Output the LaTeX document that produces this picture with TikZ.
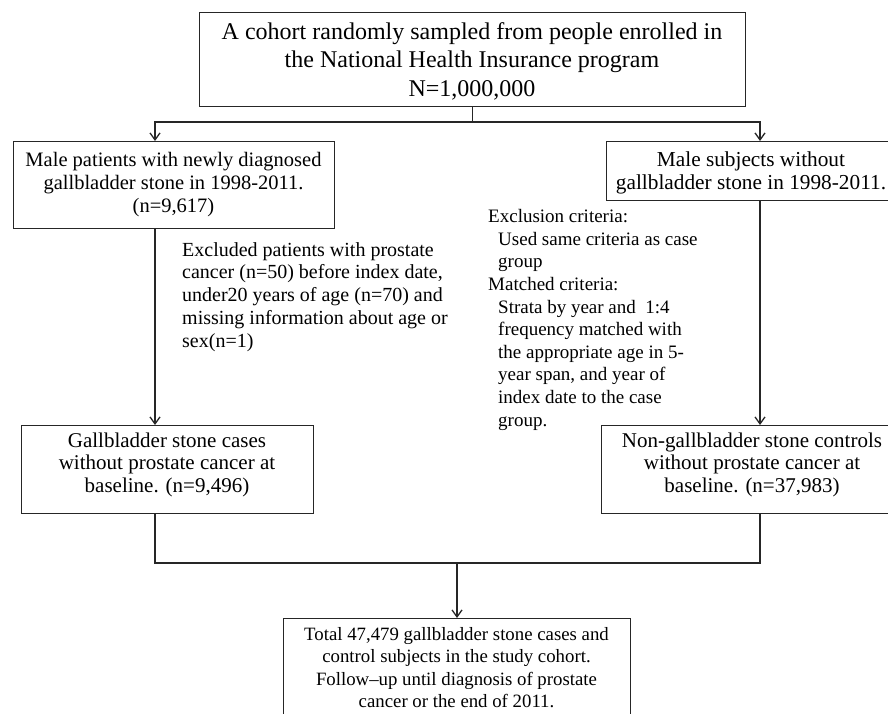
\documentclass[tikz,border=0pt]{standalone}
\usepackage{fontspec}
\setmainfont{Liberation Serif}
\usetikzlibrary{arrows.meta,calc}
\newcommand\fstrut[1]{\rule{0pt}{#1pt}}
\begin{document}
\begin{tikzpicture}[x=1pt,y=-1pt,
  box/.style={draw=black!85, line width=1.3pt, inner sep=0pt, anchor=north west},
  txt/.style={inner sep=0pt, align=center, anchor=north},
  ltxt/.style={inner sep=0pt, align=left, anchor=north west},
  conn/.style={draw=black!85, line width=1.3pt},
  arr/.style={conn, -{Straight Barb[length=7pt,width=10pt,line width=1.3pt]}}]
\useasboundingbox (0,0) rectangle (888,714);
\clip (0,0) rectangle (888,714);
\fill[white] (0,0) rectangle (888,714);

% boxes
\node[box, minimum width=546pt, minimum height=94pt] (top) at (199,12) {};
\node[box, minimum width=321pt, minimum height=87pt] (lu) at (13,141) {};
\node[box, minimum width=292pt, minimum height=59pt] (ru) at (606,141) {};
\node[box, minimum width=292pt, minimum height=88pt] (ll) at (21,425) {};
\node[box, minimum width=302pt, minimum height=88pt] (rl) at (601,425) {};
\node[box, minimum width=347pt, minimum height=110pt] (bt) at (283,618) {};

% box texts
\node[txt, font=\fontsize{24}{28.5}\selectfont] (top-t) at (472,21)
  {\fstrut{18}A cohort randomly sampled from people enrolled in\\the National Health Insurance program\\N=1,000,000};
\node[txt, font=\fontsize{20.5}{23}\selectfont] (lu-t) at (173.5,151.5)
  {\fstrut{15}Male patients with newly diagnosed\\gallbladder stone in 1998-2011.\\(n=9,617)};
\node[txt, font=\fontsize{21.3}{23}\selectfont] (ru-t) at (751,151.5)
  {\fstrut{15}Male subjects without\\gallbladder stone in 1998-2011.};
\node[txt, font=\fontsize{21}{22.4}\selectfont] (ll-t) at (167,432)
  {\fstrut{15}Gallbladder stone cases\\without prostate cancer at\\baseline. (n=9,496)};
\node[txt, font=\fontsize{21}{22.4}\selectfont] (rl-t) at (752,432)
  {\fstrut{15}Non-gallbladder stone controls\\without prostate cancer at\\baseline. (n=37,983)};
\node[txt, font=\fontsize{18.8}{22.4}\selectfont] (bt-t) at (456.5,626)
  {\fstrut{14}Total 47,479 gallbladder stone cases and\\control subjects in the study cohort.\\Follow--up until diagnosis of prostate\\cancer or the end of 2011.};

% side texts
\node[ltxt, font=\fontsize{20}{22.7}\selectfont] (ex-t) at (182,241)
  {\fstrut{15}Excluded patients with prostate\\cancer (n=50) before index date,\\under20 years of age (n=70) and\\missing information about age or\\sex(n=1)};
\node[ltxt, font=\fontsize{19}{22.6}\selectfont] (mid-t) at (488,208.5)
  {\fstrut{14}Exclusion criteria:\\\hspace*{10pt}Used same criteria as case\\\hspace*{10pt}group\\Matched criteria:\\\hspace*{10pt}Strata by year and~ 1:4\\\hspace*{10pt}frequency matched with\\\hspace*{10pt}the appropriate age in 5-\\\hspace*{10pt}year span, and year of\\\hspace*{10pt}index date to the case\\\hspace*{10pt}group.};

% connector coordinates
\coordinate (xl) at (155,0);
\coordinate (xr) at (760,0);
\coordinate (jt) at (top.south |- 0,122);
\coordinate (jb) at (457,563);

% connectors
\draw[conn] (top.south) -- (jt);
\draw[arr] (jt) -| (lu.north -| xl);
\draw[arr] (jt) -| (ru.north -| xr);
\draw[arr] (lu.south -| xl) -- (ll.north -| xl);
\draw[arr] (ru.south -| xr) -- (rl.north -| xr);
\draw[conn] (ll.south -| xl) |- (jb);
\draw[conn] (rl.south -| xr) |- (jb);
\draw[arr] (jb) -- (bt.north -| jb);
\end{tikzpicture}
\end{document}
